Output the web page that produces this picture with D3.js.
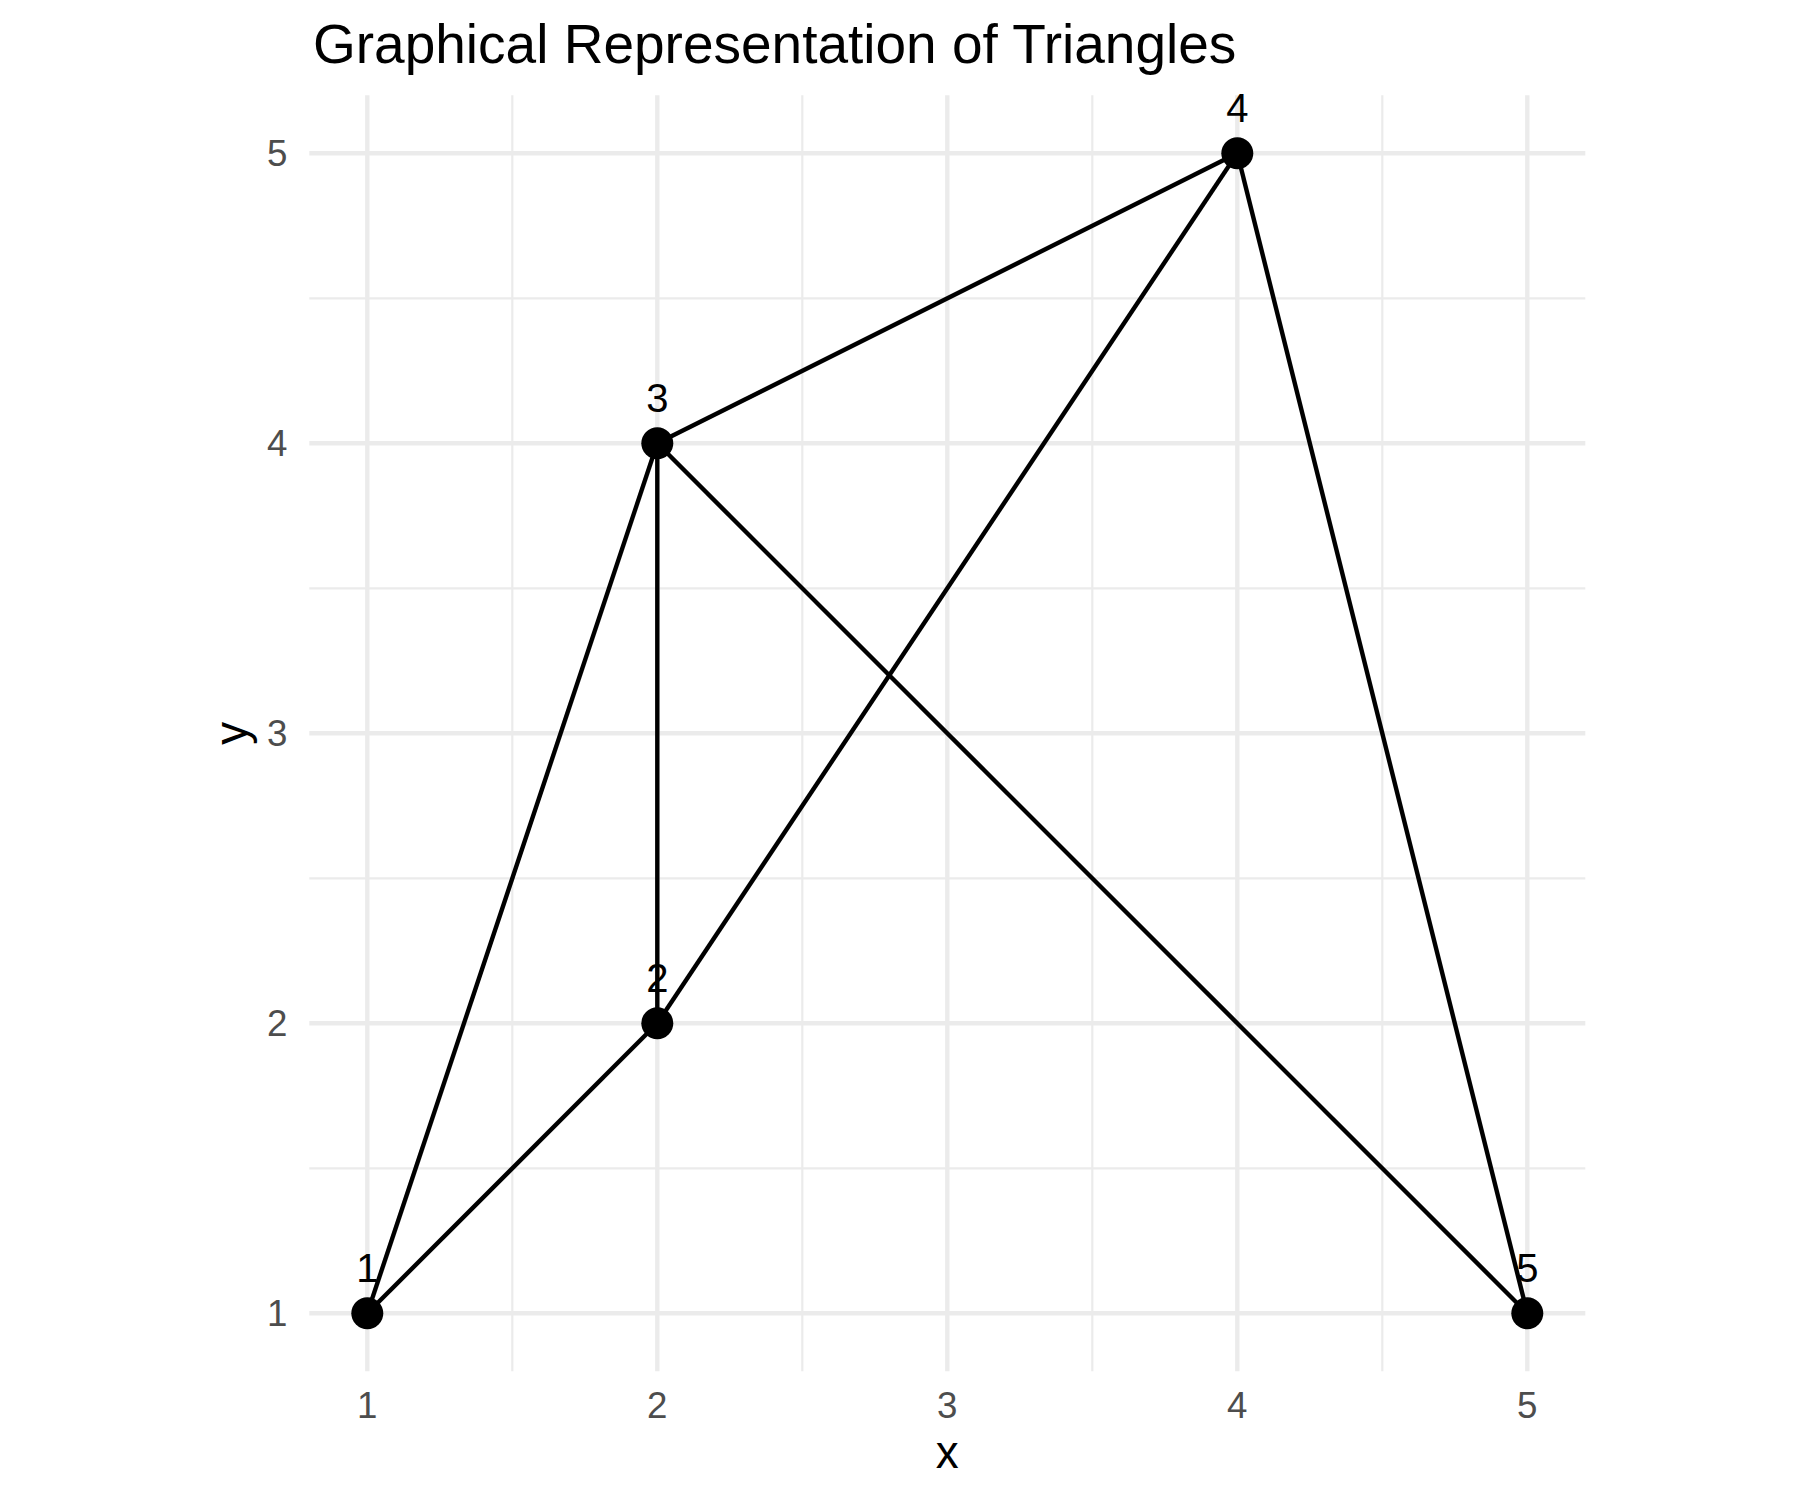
<!DOCTYPE html>
<html>
<head>
<meta charset="utf-8">
<script src="https://cdn.jsdelivr.net/npm/d3@7"></script>
<style>
    body { margin: 0; background: #fff; }
    text { font-family: "Liberation Sans", Arial, Helvetica, sans-serif; }
</style>
</head>
<body>
<svg id="svg" width="1800" height="1500"></svg>
<script>
// node ids and positions
const nodeIds = [1, 2, 3, 4, 5]
const nodeX = [1, 2, 2, 4, 5]
const nodeY = [1, 2, 4, 5, 1]

// edges as pairs of node ids
const edgeFrom = [1, 1, 2, 2, 3, 3, 4]
const edgeTo = [2, 3, 3, 4, 4, 5, 5]

const majorTicks = [1, 2, 3, 4, 5]
const minorTicks = [1.5, 2.5, 3.5, 4.5]

const titleText = "Graphical Representation of Triangles"
const xTitle = "x"
const yTitle = "y"

;(function() {

    const svg = d3.select('#svg')
    const panelLeft = 309.3, panelRight = 1585.3, panelTop = 95.3, panelBottom = 1371.3

    const nodes = nodeIds.map((id, i) => ({ id: id, x: nodeX[i], y: nodeY[i] }))
    const links = edgeFrom.map((s, i) => ({
        source: nodes.find(d => d.id == s),
        target: nodes.find(d => d.id == edgeTo[i])
    }))

    const x = d3.scaleLinear().domain([0.8, 5.2]).range([panelLeft, panelRight])
    const y = d3.scaleLinear().domain([0.8, 5.2]).range([panelBottom, panelTop])

    // minor grid
    svg.selectAll('.minor-x')
        .data(minorTicks)
        .enter()
        .append('line')
            .attr('x1', d => x(d))
            .attr('x2', d => x(d))
            .attr('y1', panelTop)
            .attr('y2', panelBottom)
            .style('stroke', '#EBEBEB')
            .style('stroke-width', 2.2)

    svg.selectAll('.minor-y')
        .data(minorTicks)
        .enter()
        .append('line')
            .attr('x1', panelLeft)
            .attr('x2', panelRight)
            .attr('y1', d => y(d))
            .attr('y2', d => y(d))
            .style('stroke', '#EBEBEB')
            .style('stroke-width', 2.2)

    // major grid
    svg.selectAll('.major-x')
        .data(majorTicks)
        .enter()
        .append('line')
            .attr('x1', d => x(d))
            .attr('x2', d => x(d))
            .attr('y1', panelTop)
            .attr('y2', panelBottom)
            .style('stroke', '#EBEBEB')
            .style('stroke-width', 4.4)

    svg.selectAll('.major-y')
        .data(majorTicks)
        .enter()
        .append('line')
            .attr('x1', panelLeft)
            .attr('x2', panelRight)
            .attr('y1', d => y(d))
            .attr('y2', d => y(d))
            .style('stroke', '#EBEBEB')
            .style('stroke-width', 4.4)

    // tick labels
    svg.selectAll('.xtick')
        .data(majorTicks)
        .enter()
        .append('text')
            .attr('x', d => x(d))
            .attr('y', 1417.5)
            .attr('text-anchor', 'middle')
            .style('font-size', '36.7px')
            .style('fill', '#4D4D4D')
            .text(d => d)

    svg.selectAll('.ytick')
        .data(majorTicks)
        .enter()
        .append('text')
            .attr('x', 287.5)
            .attr('y', d => y(d) + 13)
            .attr('text-anchor', 'end')
            .style('font-size', '36.7px')
            .style('fill', '#4D4D4D')
            .text(d => d)

    // axis titles
    svg.append('text')
        .attr('x', (panelLeft + panelRight) / 2)
        .attr('y', 1468)
        .attr('text-anchor', 'middle')
        .style('font-size', '45.8px')
        .style('fill', '#000')
        .text(xTitle)

    svg.append('text')
        .attr('transform', 'translate(247,' + ((panelTop + panelBottom) / 2) + ') rotate(-90)')
        .attr('text-anchor', 'middle')
        .style('font-size', '45.8px')
        .style('fill', '#000')
        .text(yTitle)

    // title
    svg.append('text')
        .attr('x', 313)
        .attr('y', 63)
        .style('font-size', '55px')
        .style('fill', '#000')
        .text(titleText)

    // edges
    svg.selectAll('.edge')
        .data(links)
        .enter()
        .append('line')
            .attr('x1', d => x(d.source.x))
            .attr('y1', d => y(d.source.y))
            .attr('x2', d => x(d.target.x))
            .attr('y2', d => y(d.target.y))
            .style('stroke', '#000')
            .style('stroke-width', 4.4)

    // points
    svg.selectAll('.node')
        .data(nodes)
        .enter()
        .append('circle')
            .attr('cx', d => x(d.x))
            .attr('cy', d => y(d.y))
            .attr('r', 16)
            .attr('fill', '#000')

    // node labels
    svg.selectAll('.label')
        .data(nodes)
        .enter()
        .append('text')
            .attr('x', d => x(d.x))
            .attr('y', d => y(d.y) - 31)
            .attr('text-anchor', 'middle')
            .style('font-size', '40px')
            .style('fill', '#000')
            .text(d => d.id)

})();
</script>
</body>
</html>
